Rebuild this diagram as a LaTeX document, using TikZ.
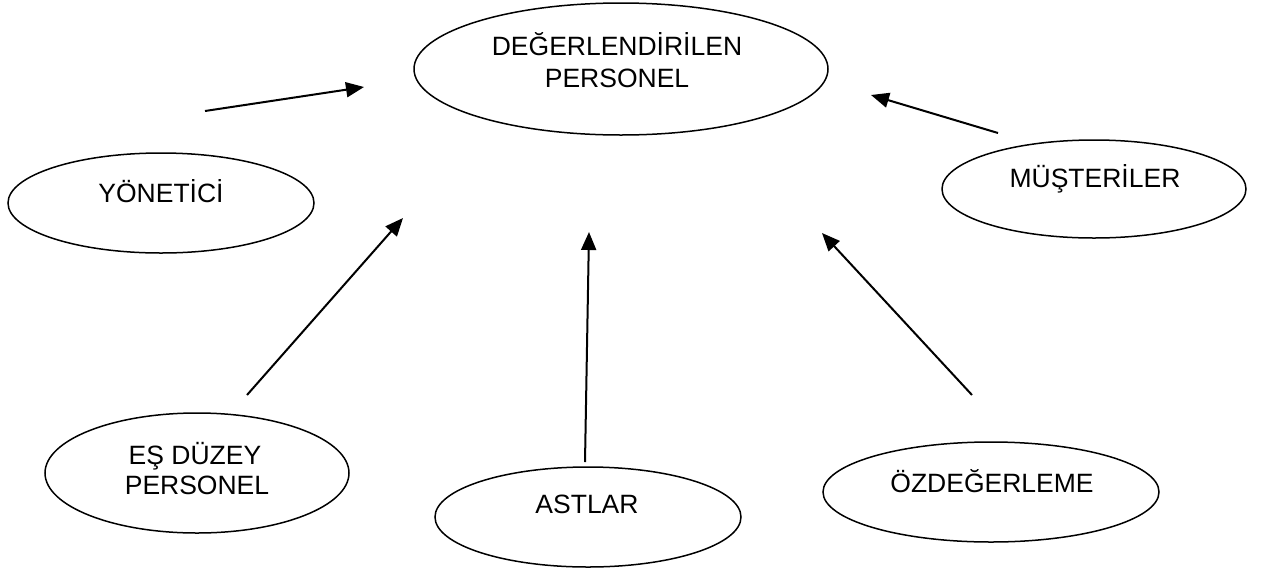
\documentclass[tikz,border=0pt]{standalone}
\usepackage{fontspec}
\setmainfont{Liberation Sans}
\usetikzlibrary{arrows.meta,shapes.geometric}
\begin{document}
\begin{tikzpicture}[x=1pt,y=-1pt,
  ell/.style={draw=black, line width=1.5pt, ellipse, inner sep=0pt},
  txt/.style={inner sep=0pt, anchor=base, font=\fontsize{26.5}{32}\selectfont},
  arr/.style={line width=2pt, -{Triangle[length=18pt,width=15pt]}}]
\useasboundingbox (0,0) rectangle (1264,574);
\fill[white] (0,0) rectangle (1264,574);
% ellipses
\node[ell, minimum width=414pt, minimum height=132pt] (main) at (621,69) {};
\node[ell, minimum width=306pt, minimum height=100pt] (yon) at (161,203) {};
\node[ell, minimum width=304pt, minimum height=98pt] (mus) at (1094,189) {};
\node[ell, minimum width=304pt, minimum height=120pt] (esd) at (197,473) {};
\node[ell, minimum width=306pt, minimum height=100pt] (ast) at (588,517) {};
\node[ell, minimum width=336pt, minimum height=100pt] (ozd) at (991,492) {};
% texts
\node[txt] (mainA) at (617,55) {DEĞERLENDİRİLEN};
\node[txt] (mainB) at (617,87) {PERSONEL};
\node[txt] (yonT) at (161,202) {YÖNETİCİ};
\node[txt] (musT) at (1095,187) {MÜŞTERİLER};
\node[txt] (esdA) at (195,464) {EŞ DÜZEY};
\node[txt] (esdB) at (197,494) {PERSONEL};
\node[txt] (astT) at (587,513) {ASTLAR};
\node[txt] (ozdT) at (992,492) {ÖZDEĞERLEME};
% arrow ends
\coordinate (a1s) at (205,111); \coordinate (a1e) at (364,87);
\coordinate (a2s) at (247,395); \coordinate (a2e) at (403,218);
\coordinate (a3s) at (585,462); \coordinate (a3e) at (589,232);
\coordinate (a4s) at (972,395); \coordinate (a4e) at (822,233);
\coordinate (a5s) at (998,133); \coordinate (a5e) at (871,95);
\draw[arr] (a1s) -- (a1e);
\draw[arr] (a2s) -- (a2e);
\draw[arr] (a3s) -- (a3e);
\draw[arr] (a4s) -- (a4e);
\draw[arr] (a5s) -- (a5e);
\end{tikzpicture}
\end{document}
